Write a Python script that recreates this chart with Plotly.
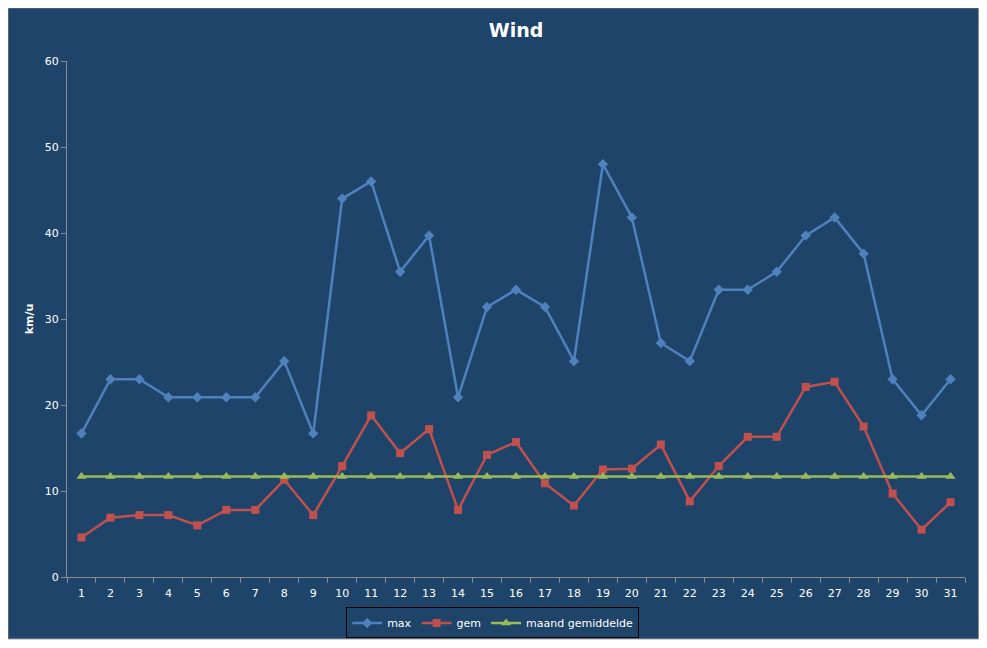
import plotly.graph_objects as go

days = [str(d) for d in range(1, 32)]
max_wind = [16.7, 23.0, 23.0, 20.9, 20.9, 20.9, 20.9, 25.1, 16.7, 44.0, 46.0, 35.5, 39.7, 20.9, 31.4,
            33.4, 31.4, 25.1, 48.0, 41.8, 27.2, 25.1, 33.4, 33.4, 35.5, 39.7, 41.8, 37.6, 23.0, 18.8, 23.0]
gem_wind = [4.6, 6.9, 7.2, 7.2, 6.0, 7.8, 7.8, 11.3, 7.2, 12.9, 18.8, 14.4, 17.2, 7.8, 14.2,
            15.7, 10.9, 8.3, 12.5, 12.6, 15.4, 8.8, 12.9, 16.3, 16.3, 22.1, 22.7, 17.5, 9.7, 5.5, 8.7]
maand_gem = [11.7] * 31

BG = "#1F4469"
AX = "#8C8C8C"
FONT = "DejaVu Sans"

fig = go.Figure()
fig.add_trace(go.Scatter(x=days, y=max_wind, name="max", mode="lines+markers",
                         line=dict(color="#4F81BD", width=2.5),
                         marker=dict(symbol="diamond", size=8, color="#4F81BD")))
fig.add_trace(go.Scatter(x=days, y=gem_wind, name="gem", mode="lines+markers",
                         line=dict(color="#C0504D", width=2.5),
                         marker=dict(symbol="square", size=8, color="#C0504D")))
fig.add_trace(go.Scatter(x=days, y=maand_gem, name="maand gemiddelde", mode="lines+markers",
                         line=dict(color="#9BBB59", width=2.5),
                         marker=dict(symbol="triangle-up", size=9, color="#9BBB59")))

fig.update_layout(
    width=971, height=632,
    paper_bgcolor="white", plot_bgcolor=BG,
    margin=dict(l=59, r=14, t=53, b=63, autoexpand=False),
    font=dict(family=FONT, size=11, color="white"),
    title=dict(text="<b>Wind</b>", x=0.5, xref="paper", xanchor="center",
               y=0.964, yanchor="middle", font=dict(size=19, color="white", family=FONT)),
    showlegend=True,
    legend=dict(orientation="h", x=0.474, xanchor="center", yref="container", y=0.027, yanchor="middle",
                bgcolor=BG, bordercolor="black", borderwidth=1,
                font=dict(size=11, color="white", family=FONT), tracegroupgap=0),
    shapes=[dict(type="rect", xref="paper", yref="paper", x0=-0.0657, x1=1.015, y0=-0.12, y1=1.103,
                 fillcolor=BG, line=dict(color="#8C8C8C", width=1), layer="below")],
)
fig.update_xaxes(type="category", range=[-0.5, 30.5], showgrid=False, zeroline=False,
                 showline=True, linecolor=AX, linewidth=1, ticks="outside", tickson="boundaries",
                 ticklen=5, tickcolor=AX, tickfont=dict(size=11, color="white"),
                 ticklabelstandoff=6)
fig.update_yaxes(range=[0, 60], dtick=10, showgrid=False, zeroline=False,
                 showline=True, linecolor=AX, linewidth=1, ticks="outside", ticklen=5,
                 tickcolor=AX, tickfont=dict(size=11, color="white"),
                 title=dict(text="<b>km/u</b>", font=dict(size=11, color="white"), standoff=8))

fig.write_html("out.html")
